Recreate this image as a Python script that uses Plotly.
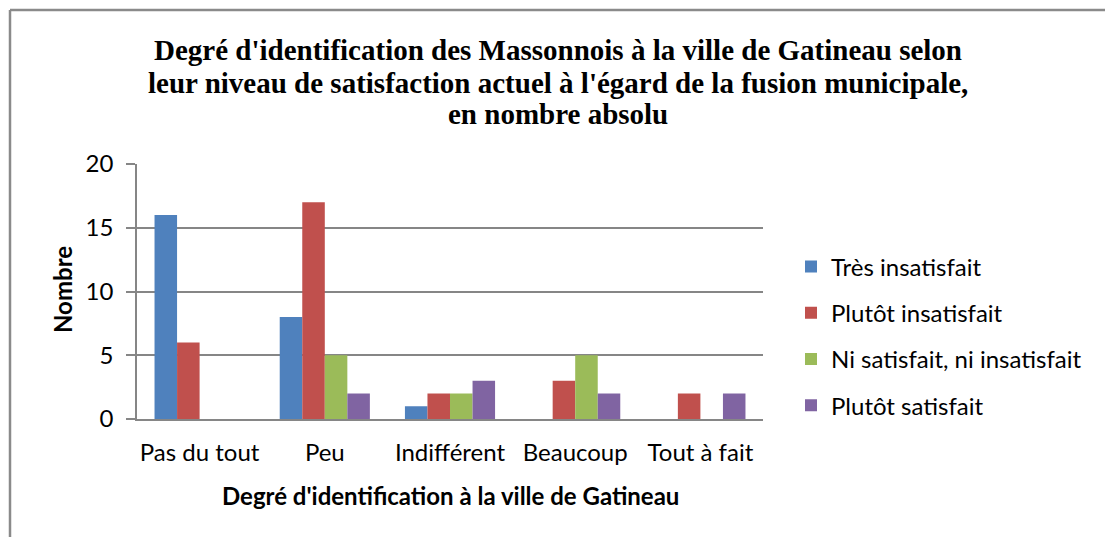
import plotly.graph_objects as go

categories = ["Pas du tout", "Peu", "Indifférent", "Beaucoup", "Tout à fait"]
series_names = ["Très insatisfait", "Plutôt insatisfait", "Ni satisfait, ni insatisfait", "Plutôt satisfait"]
tres_insatisfait = [16, 8, 1, 0, 0]
plutot_insatisfait = [6, 17, 2, 3, 2]
ni_satisfait = [0, 5, 2, 5, 0]
plutot_satisfait = [0, 2, 3, 2, 2]
y_ticks = [0, 5, 10, 15, 20]
title_lines = [
    "Degré d'identification des Massonnois à la ville de Gatineau selon",
    "leur niveau de satisfaction actuel à l'égard de la fusion municipale,",
    "en nombre absolu",
]
x_title = "Degré d'identification à la ville de Gatineau"
y_title = "Nombre"

series_values = [tres_insatisfait, plutot_insatisfait, ni_satisfait, plutot_satisfait]
colors = ["#4F81BD", "#C0504D", "#9BBB59", "#8064A2"]

W, H = 1105, 537
L, T = 137, 164
R, B = W - 763, H - 419
PW, PH = W - L - R, H - T - B


def px_x(x):
    return (x - L) / PW


def px_y(y):
    return (H - B - y) / PH


sans = "Lato, 'Open Sans', sans-serif"
serif = "'Liberation Serif', 'Times New Roman', serif"

fig = go.Figure()
for i, (name, vals, col) in enumerate(zip(series_names, series_values, colors)):
    fig.add_trace(go.Bar(
        x=categories, y=vals, name=name,
        marker=dict(color=col, line=dict(width=0)),
        legendgroup=f"g{i}",
    ))

tick_font = dict(family=sans, size=24, color="#000000")

fig.update_layout(
    width=W, height=H,
    margin=dict(l=L, r=R, t=T, b=B, autoexpand=False),
    paper_bgcolor="white", plot_bgcolor="white",
    barmode="group", bargap=0.28, bargroupgap=0,
    legend=dict(
        x=px_x(791), xanchor="left",
        y=px_y(336), yanchor="middle",
        font=dict(family=sans, size=24, color="#000000"),
        tracegroupgap=12,
        bgcolor="rgba(0,0,0,0)",
        itemwidth=30,
    ),
    showlegend=True,
)

for i, (line, yy) in enumerate(zip(title_lines, [50, 83, 114])):
    fig.add_annotation(
        text=f"<b>{line}</b>", xref="paper", yref="paper",
        x=px_x(558), y=px_y(yy), xanchor="center", yanchor="middle",
        showarrow=False, font=dict(family=serif, size=29, color="#000000"),
    )

fig.add_annotation(
    text=f"<b>{x_title}</b>", xref="paper", yref="paper",
    x=px_x(450), y=px_y(495), xanchor="center", yanchor="middle",
    showarrow=False, font=dict(family=sans, size=24, color="#000000"),
)
fig.add_annotation(
    text=f"<b>{y_title}</b>", xref="paper", yref="paper",
    x=px_x(62), y=px_y(290), xanchor="center", yanchor="middle", textangle=-90,
    showarrow=False, font=dict(family=sans, size=24, color="#000000"),
)

fig.update_xaxes(
    showline=True, linecolor="#868686", linewidth=1.5,
    ticks="", tickfont=tick_font, ticklabelstandoff=11,
)
fig.update_yaxes(
    range=[0, 20], tickvals=y_ticks,
    showline=True, linecolor="#868686", linewidth=1.5,
    ticks="outside", ticklen=9, tickcolor="#868686", tickwidth=1.5,
    showgrid=True, gridcolor="#868686", gridwidth=1.5,
    zeroline=False,
    tickfont=tick_font, ticklabelstandoff=8,
)

# outer chart frame (top and left edges visible)
fig.add_shape(type="line", xref="paper", yref="paper",
              x0=px_x(10), x1=px_x(W), y0=px_y(10), y1=px_y(10),
              line=dict(color="#8a8a8a", width=2.5))
fig.add_shape(type="line", xref="paper", yref="paper",
              x0=px_x(10), x1=px_x(10), y0=px_y(10), y1=px_y(H),
              line=dict(color="#8a8a8a", width=2.5))

fig.write_html(
    "out.html",
    config={"displayModeBar": False},
    post_script="document.body.style.margin='0';document.body.style.overflow='hidden';",
)
